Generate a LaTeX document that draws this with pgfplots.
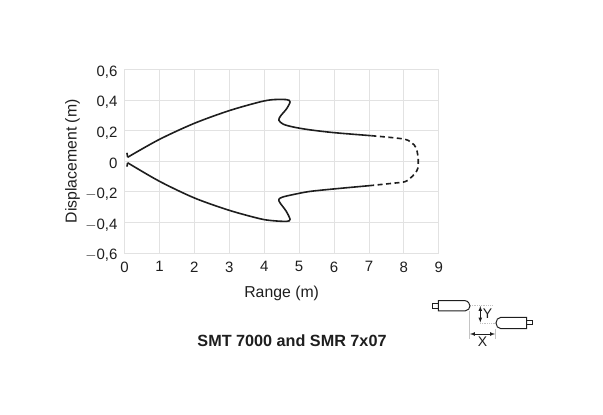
\documentclass[border=0pt]{standalone}
\usepackage{pgfplots}
\pgfplotsset{compat=1.18}
\usepackage{fontspec}
\setmainfont{Liberation Sans}
\definecolor{gl}{HTML}{E2E2E2}
\definecolor{ink}{HTML}{1E1E1E}
\begin{document}
\begin{tikzpicture}[x=1pt,y=1pt]
\path[use as bounding box] (0,0) rectangle (603,415);
\begin{axis}[anchor=south west,at={(124.5pt,162pt)},
  width=314.3pt,height=183.5pt,scale only axis,
  xmin=0,xmax=9,ymin=-0.6,ymax=0.6,
  xtick={0,...,9},ytick={-0.6,-0.4,-0.2,0,0.2,0.4,0.6},
  yticklabels={{$-$0,6},{$-$0,4},{$-$0,2},{0},{0,2},{0,4},{0,6}},
  xticklabels={0,1,2,3,4,5,6,7,8,9},
  grid=major,
  major grid style={gl,line width=0.9pt},
  axis line style={gl,line width=0.9pt},
  tick style={draw=none},
  tick label style={font=\fontsize{15}{17}\selectfont,text=ink},
  xticklabel style={yshift=-5pt},
  yticklabel style={xshift=-3.5pt,yshift=-2.5pt},
  xlabel={Range (m)},ylabel={Displacement (m)},
  label style={font=\fontsize{15.8}{18}\selectfont,text=ink},
  xlabel style={at={(axis description cs:0.5,-0.222)},anchor=center},
  ylabel style={at={(axis description cs:-0.165,0.5)},anchor=center},
  clip=false]
\addplot[ink,line width=1.6pt] coordinates {(0.07,0.055)(0.09,0.026)};
\addplot[ink,line width=1.6pt,smooth,tension=0.5] coordinates {(0.09,0.026)(1,0.143)(2,0.248)(3,0.331)(3.88,0.388)(4.26,0.403)(4.645,0.403)(4.74,0.388)(4.645,0.344)(4.47,0.296)(4.42,0.268)(4.55,0.242)(4.83,0.224)(5.29,0.206)(6,0.187)(7.07,0.167)};
\addplot[ink,line width=1.6pt,dash pattern=on 5pt off 3.5pt,smooth,tension=0.5] coordinates {(7.07,0.167)(7.6,0.156)(8.03,0.144)(8.18,0.128)(8.3,0.105)(8.37,0.073)(8.41,0.016)(8.4,-0.046)(8.32,-0.079)(8.18,-0.112)(8.03,-0.134)(7.6,-0.146)(7,-0.16)};
\addplot[ink,line width=1.6pt,smooth,tension=0.5] coordinates {(7,-0.16)(6,-0.181)(5.29,-0.198)(4.83,-0.218)(4.53,-0.234)(4.42,-0.249)(4.45,-0.271)(4.625,-0.325)(4.74,-0.38)(4.645,-0.393)(4.26,-0.389)(3.88,-0.376)(3,-0.321)(2,-0.24)(1,-0.131)(0.09,-0.01)};
\addplot[ink,line width=1.6pt] coordinates {(0.09,-0.01)(0.07,-0.035)};
\end{axis}
\node[font=\bfseries\fontsize{16.2}{18}\selectfont,text=ink] at (292,74) {SMT 7000 and SMR 7x07};
\begin{scope}[yshift=415pt,yscale=-1]
 \draw[gl!70!gray,line width=0.8pt] (469.3,311)--(469.3,339.5) (495.3,329)--(495.3,339.5);
 \draw[gl!70!gray,line width=0.8pt,densely dotted] (470,305)--(492,305) (480,323.3)--(496,323.3);
 \draw[ink,line width=1pt] (438.3,300.7)--(465,300.7) .. controls (468,300.7) and (470,304) .. (470,306) .. controls (470,308) and (468,311) .. (465,311) -- (438.3,311)--cycle;
 \draw[ink,line width=1pt] (438.3,303.3)--(432.5,303.3)--(432.5,308.3)--(438.3,308.3);
 \draw[ink,line width=1pt] (526.7,317.3)--(501,317.3) .. controls (498,317.3) and (496,320) .. (496,323) .. controls (496,326) and (498,328.7) .. (501,328.7) -- (526.7,328.7)--cycle;
 \draw[ink,line width=1pt] (526.7,320.3)--(532.7,320.3)--(532.7,325)--(526.7,325);
 \draw[ink,line width=0.7pt,<->,>=latex] (480.3,306)--(480.3,322.5);
 \draw[ink,line width=0.7pt,<->,>=latex] (470,334)--(495,334);
 \node[font=\fontsize{14}{16}\selectfont,text=ink] at (487.5,314) {Y};
 \node[font=\fontsize{14}{16}\selectfont,text=ink] at (482.5,341.5) {X};
\end{scope}
\end{tikzpicture}
\end{document}
